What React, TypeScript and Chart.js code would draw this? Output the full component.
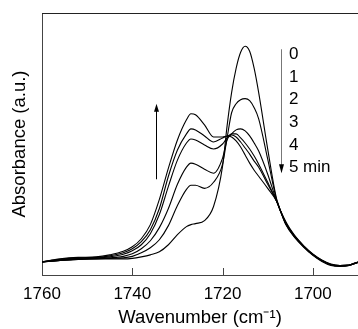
import React, { useEffect, useRef } from "react";
import { Chart, registerables } from "chart.js";

Chart.register(...registerables);

// Wavenumber grid (cm-1)
const WAVENUMBERS = [1760, 1756, 1752, 1748, 1745, 1742, 1740, 1738, 1736, 1734, 1732, 1730, 1728, 1727, 1726, 1724, 1722, 1720, 1719, 1718, 1717, 1716, 1715, 1714, 1713, 1712, 1710, 1708, 1706, 1704, 1702, 1700, 1698, 1696, 1694, 1692, 1690];

// Absorbance (a.u.) for each time
const ABS_0_MIN = [13, 14.5, 15.5, 16, 16, 16, 16.5, 18, 20, 23, 30, 40, 48, 50, 51, 54, 68, 108, 148, 181, 205, 221, 227, 222, 205, 181, 125, 75, 53, 39, 29, 21, 15, 11, 9.5, 10, 13];
const ABS_1_MIN = [13, 14.5, 15.5, 16, 16.5, 17, 18.5, 22, 27, 35, 49, 69, 85, 89, 89, 86, 92, 110, 136, 161, 170, 174, 175, 173, 166, 155, 115, 74, 52, 38.5, 28.5, 20.5, 14.5, 10.5, 9.5, 10, 13];
const ABS_2_MIN = [13, 14.5, 16, 16.5, 17, 18.5, 21, 26, 34, 47, 66, 90, 107, 111, 110, 105, 101, 116, 134, 140, 144, 145, 143, 138, 131, 123, 100, 73, 51.5, 38, 28.5, 20.5, 14.5, 10.5, 9.5, 10, 13];
const ABS_3_MIN = [13, 15, 16.5, 17, 18, 20.5, 24, 30, 41, 60, 88, 114, 131, 135, 134, 129, 125, 130, 136, 140, 140, 136, 131, 125, 118, 110, 92, 73, 51, 38, 28, 20, 14, 10, 9, 9.5, 12.5];
const ABS_4_MIN = [13, 15.5, 17, 17.5, 19, 22, 26, 33, 45, 66, 98, 124, 140, 145, 144, 138, 132, 136, 138, 139, 137, 132, 126, 120, 113, 107, 90, 73, 50.5, 37.5, 28, 20, 14, 10, 9, 9.5, 12.5];
const ABS_5_MIN = [13, 16, 17.5, 18, 20, 23.5, 28, 36, 50, 75, 106, 134, 154, 160, 159, 149, 137, 137, 138, 137, 133, 127, 119, 111, 104, 98, 86, 73, 50, 37, 27.5, 19.5, 13.5, 9.5, 8.5, 9.5, 12.5];

const SERIES = [ABS_0_MIN, ABS_1_MIN, ABS_2_MIN, ABS_3_MIN, ABS_4_MIN, ABS_5_MIN];

const X_TICK_VALUES = [1760, 1740, 1720, 1700];
const TIME_LABELS = ["0", "1", "2", "3", "4", "5 min"];
const TIME_LABEL_LEVELS = [219, 196.5, 174, 151.5, 129, 106.5];

const FONT = "'Liberation Sans', Arial, Helvetica, sans-serif";

const decorations = {
  id: "decorations",
  afterDatasetsDraw(chart: any) {
    const { ctx, chartArea, scales } = chart;
    const x = scales.x;
    const y = scales.y;
    ctx.save();
    // top frame line
    ctx.strokeStyle = "#222";
    ctx.lineWidth = 1;
    const ty = Math.round(chartArea.top) + 0.5;
    ctx.beginPath();
    ctx.moveTo(chartArea.left, ty);
    ctx.lineTo(chartArea.right, ty);
    ctx.stroke();
    // inner tick marks
    ctx.strokeStyle = "#444";
    for (const t of X_TICK_VALUES) {
      const px = Math.round(x.getPixelForValue(t)) + 0.5;
      ctx.beginPath();
      ctx.moveTo(px, chartArea.bottom);
      ctx.lineTo(px, chartArea.bottom - 7);
      ctx.stroke();
    }
    // up arrow
    {
      const px = Math.round(x.getPixelForValue(1734.85)) + 0.5;
      const yb = y.getPixelForValue(95);
      const yt = y.getPixelForValue(170);
      ctx.strokeStyle = "#000";
      ctx.beginPath();
      ctx.moveTo(px, yb);
      ctx.lineTo(px, yt + 6);
      ctx.stroke();
      ctx.fillStyle = "#000";
      ctx.beginPath();
      ctx.moveTo(px, yt);
      ctx.lineTo(px - 2.5, yt + 8);
      ctx.lineTo(px + 2.5, yt + 8);
      ctx.closePath();
      ctx.fill();
    }
    // down arrow
    {
      const px = Math.round(x.getPixelForValue(1707.1)) + 0.5;
      const yt = y.getPixelForValue(224);
      const yb = y.getPixelForValue(101);
      ctx.strokeStyle = "#777";
      ctx.beginPath();
      ctx.moveTo(px, yt);
      ctx.lineTo(px, yb - 6);
      ctx.stroke();
      ctx.fillStyle = "#000";
      ctx.beginPath();
      ctx.moveTo(px, yb);
      ctx.lineTo(px - 2.5, yb - 9);
      ctx.lineTo(px + 2.5, yb - 9);
      ctx.closePath();
      ctx.fill();
    }
    // time labels
    ctx.fillStyle = "#000";
    ctx.font = `17px ${FONT}`;
    ctx.textAlign = "left";
    ctx.textBaseline = "middle";
    const lx = x.getPixelForValue(1705.3);
    TIME_LABELS.forEach((s, i) => {
      ctx.fillText(s, lx, y.getPixelForValue(TIME_LABEL_LEVELS[i]));
    });
    ctx.restore();
  },
};

export default function App() {
  const canvasRef = useRef<HTMLCanvasElement | null>(null);

  useEffect(() => {
    document.body.style.margin = "0";
    const canvas = canvasRef.current;
    if (!canvas) return;
    const chart = new Chart(canvas, {
      type: "line",
      data: {
        datasets: SERIES.map((s, i) => ({
          label: TIME_LABELS[i],
          data: WAVENUMBERS.map((w, j) => ({ x: w, y: s[j] })),
          borderColor: "#000",
          borderWidth: 1.1,
          pointRadius: 0,
          fill: false,
          cubicInterpolationMode: "monotone" as const,
        })),
      },
      options: {
        animation: false,
        responsive: false,
        layout: { padding: { left: 0, right: 0, top: 13, bottom: 0 } },
        plugins: {
          legend: { display: false },
          tooltip: { enabled: false },
        },
        scales: {
          x: {
            type: "linear",
            reverse: true,
            min: 1690,
            max: 1760,
            afterBuildTicks: (scale: any) => {
              scale.ticks = X_TICK_VALUES.map((v) => ({ value: v }));
            },
            ticks: {
              includeBounds: false,
              color: "#000",
              padding: 9,
              maxRotation: 0,
              font: { family: FONT, size: 17 },
              callback: (v: any) => String(v),
            },
            grid: { display: false, drawTicks: false },
            border: { display: true, color: "#444", width: 1 },
            title: {
              display: true,
              text: "Wavenumber (cm⁻¹)",
              color: "#000",
              font: { family: FONT, size: 18.5 },
              padding: { top: -6.6, bottom: 0 },
            },
          },
          y: {
            min: 0,
            max: 260,
            ticks: { display: false },
            grid: { display: false, drawTicks: false },
            border: { display: true, color: "#444", width: 1 },
            title: {
              display: true,
              text: "Absorbance (a.u.)",
              color: "#000",
              font: { family: FONT, size: 18.5 },
              padding: { top: 8.9, bottom: 10.9 },
            },
          },
        },
      },
      plugins: [decorations],
    });
    return () => chart.destroy();
  }, []);

  return (
    <div style={{ width: 358, height: 329 }}>
      <canvas ref={canvasRef} width={358} height={329} style={{ display: "block" }} />
    </div>
  );
}
